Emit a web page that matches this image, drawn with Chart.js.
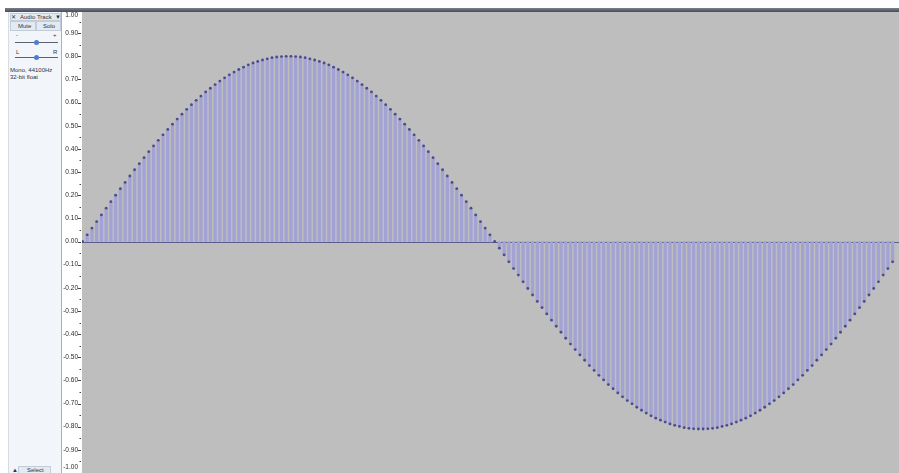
<!DOCTYPE html>
<html>
<head>
<meta charset="utf-8">
<script src="https://cdn.jsdelivr.net/npm/chart.js@4.4.1/dist/chart.umd.min.js"></script>
<style>
  html,body{margin:0;padding:0;}
  body{width:899px;height:473px;overflow:hidden;position:relative;background:#ffffff;font-family:"Liberation Sans",Arial,sans-serif;color:#333;}
  .abs{position:absolute;}
  #panel{left:8px;top:12px;width:53px;height:461px;background:#f2f5fa;border-left:1px solid #d6dce6;}
  .t{position:absolute;font-size:6px;line-height:6px;white-space:nowrap;color:#2e3440;}
  .btn{position:absolute;background:#e4eaf2;border:1px solid #c3ccd9;box-sizing:border-box;}
  .sl{position:absolute;height:1px;background:#5a6070;}
  .knob{position:absolute;width:5px;height:5px;border-radius:50%;background:#4d7fd0;}
  #ruler{left:61px;top:12px;width:21px;height:461px;background:#ffffff;border-left:1px solid #a8b0bc;box-sizing:border-box;}
  #plotbg{left:82px;top:10px;width:817px;height:463px;background:#bebebe;}
  #topbar{left:5px;top:8px;width:894px;height:4px;background:linear-gradient(#7a808c,#454b58);}
  #c{position:absolute;left:61px;top:0px;width:838px;height:477px;}
</style>
</head>
<body>
<div id="panel" class="abs">
  <div class="btn" style="left:1px;top:1px;width:51px;height:8px;"></div>
  <div class="t" style="left:2px;top:2px;">&#x2715;</div>
  <div class="t" style="left:11px;top:2px;">Audio Track</div>
  <div class="t" style="left:46px;top:2px;">&#x25BC;</div>
  <div class="btn" style="left:1px;top:9px;width:26px;height:10px;"></div>
  <div class="btn" style="left:27px;top:9px;width:25px;height:10px;"></div>
  <div class="t" style="left:9px;top:11px;">Mute</div>
  <div class="t" style="left:34px;top:11px;">Solo</div>
  <div class="t" style="left:7px;top:20px;">-</div>
  <div class="t" style="left:44px;top:20px;">+</div>
  <div class="sl" style="left:6px;top:30px;width:43px;"></div>
  <div class="knob" style="left:25px;top:28px;"></div>
  <div class="t" style="left:7px;top:37px;">L</div>
  <div class="t" style="left:44px;top:37px;">R</div>
  <div class="sl" style="left:6px;top:45px;width:43px;"></div>
  <div class="knob" style="left:25px;top:43px;"></div>
  <div class="t" style="left:1px;top:55px;">Mono, 44100Hz</div>
  <div class="t" style="left:1px;top:62px;">32-bit float</div>
  <div class="btn" style="left:9px;top:454px;width:33px;height:8px;"></div>
  <div class="t" style="left:3px;top:455px;">&#x25B2;</div>
  <div class="t" style="left:18px;top:455px;">Select</div>
</div>
<div id="ruler" class="abs"></div>
<div id="plotbg" class="abs"></div>
<canvas id="c" width="838" height="477"></canvas>
<div id="topbar" class="abs"></div>
<script>
// Sample values (one sample per stem)
const positiveHalf = [
  0, 0.029, 0.058, 0.086, 0.115, 0.144, 0.172, 0.200, 0.228, 0.255,
  0.283, 0.310, 0.336, 0.362, 0.388, 0.413, 0.437, 0.461, 0.484, 0.507,
  0.529, 0.550, 0.571, 0.591, 0.610, 0.628, 0.646, 0.662, 0.678, 0.693,
  0.707, 0.720, 0.732, 0.743, 0.753, 0.763, 0.771, 0.778, 0.784, 0.789,
  0.794, 0.797, 0.799, 0.800, 0.800, 0.799, 0.797, 0.794, 0.789, 0.784,
  0.778, 0.771, 0.763, 0.753, 0.743, 0.732, 0.720, 0.707, 0.693, 0.678,
  0.662, 0.646, 0.628, 0.610, 0.591, 0.571, 0.550, 0.529, 0.507, 0.484,
  0.461, 0.437, 0.413, 0.388, 0.362, 0.336, 0.310, 0.283, 0.255, 0.228,
  0.200, 0.172, 0.144, 0.115, 0.086, 0.058, 0.029, 0
];
const negativeHalf = [
  -0.029, -0.058, -0.088, -0.117, -0.145, -0.174, -0.203, -0.231, -0.259, -0.286,
  -0.313, -0.340, -0.366, -0.392, -0.418, -0.443, -0.467, -0.490, -0.513, -0.536,
  -0.557, -0.578, -0.598, -0.618, -0.636, -0.654, -0.671, -0.687, -0.701, -0.716,
  -0.729, -0.741, -0.753, -0.763, -0.772, -0.780, -0.788, -0.794, -0.799, -0.804,
  -0.807, -0.809, -0.810, -0.810, -0.809, -0.807, -0.804, -0.799, -0.794, -0.788,
  -0.780, -0.772, -0.763, -0.753, -0.741, -0.729, -0.716, -0.701, -0.687, -0.671,
  -0.654, -0.636, -0.618, -0.598, -0.578, -0.557, -0.536, -0.513, -0.490, -0.467,
  -0.443, -0.418, -0.392, -0.366, -0.340, -0.313, -0.286, -0.259, -0.231, -0.203,
  -0.174, -0.145, -0.117, -0.088
];
const yTickValues = [1.0, 0.9, 0.8, 0.7, 0.6, 0.5, 0.4, 0.3, 0.2, 0.1, 0.0,
  -0.1, -0.2, -0.3, -0.4, -0.5, -0.6, -0.7, -0.8, -0.9, -1.0];
const yTickLabels = ['1.00','0.90','0.80','0.70','0.60','0.50','0.40','0.30','0.20','0.10','0.00',
  '-0.10','-0.20','-0.30','-0.40','-0.50','-0.60','-0.70','-0.80','-0.90','-1.00'];

const sampleValues = positiveHalf.concat(negativeHalf);
const points = sampleValues.map((v, i) => ({x: i, y: v}));

const bgPlugin = {
  id: 'bg',
  beforeDraw(chart) {
    const {ctx, chartArea: a} = chart;
    ctx.save();
    ctx.fillStyle = '#bebebe';
    ctx.fillRect(a.left, a.top, chart.width - a.left, chart.height - a.top);
    ctx.restore();
  },
  beforeDatasetsDraw(chart) {
    const {ctx, chartArea: a} = chart;
    const y0 = Math.round(chart.scales.y.getPixelForValue(0)) + 0.5;
    ctx.save();
    ctx.strokeStyle = '#5c5c8c';
    ctx.lineWidth = 1;
    ctx.beginPath();
    ctx.moveTo(a.left, y0);
    ctx.lineTo(chart.width, y0);
    ctx.stroke();
    ctx.restore();
  },
  afterDraw(chart) {
    const {ctx, chartArea: a} = chart;
    const ys = chart.scales.y;
    ctx.save();
    ctx.fillStyle = '#2a2a2a';
    ctx.strokeStyle = '#444';
    ctx.lineWidth = 1;
    ctx.font = '6.5px "Liberation Sans", Arial, sans-serif';
    ctx.textAlign = 'right';
    ctx.textBaseline = 'middle';
    yTickValues.forEach((v, i) => {
      const py = ys.getPixelForValue(v);
      let ly = py;
      if (i === 0) ly = py + 5;
      if (i === yTickValues.length - 1) ly = py - 6;
      ctx.fillText(yTickLabels[i], a.left - 4, ly);
      if (i > 0 && i < yTickValues.length - 1) {
        const yy = Math.round(py) + 0.5;
        ctx.beginPath();
        ctx.moveTo(a.left - 4, yy);
        ctx.lineTo(a.left - 1, yy);
        ctx.stroke();
      }
      if (i < yTickValues.length - 1) {
        const mv = (v + yTickValues[i + 1]) / 2;
        const my = Math.round(ys.getPixelForValue(mv)) + 0.5;
        ctx.beginPath();
        ctx.moveTo(a.left - 2.5, my);
        ctx.lineTo(a.left - 1, my);
        ctx.stroke();
      }
    });
    ctx.restore();
  }
};

new Chart(document.getElementById('c'), {
  type: 'bar',
  data: {
    datasets: [
      {
        type: 'bar',
        data: points,
        backgroundColor: '#a2a2d4',
        borderWidth: 0,
        barThickness: 2.6,
        grouped: false,
        order: 2
      },
      {
        type: 'scatter',
        data: points,
        pointRadius: 1.4,
        pointBackgroundColor: '#4b4b8c',
        pointBorderWidth: 0,
        showLine: false,
        order: 1
      }
    ]
  },
  options: {
    responsive: false,
    animation: false,
    events: [],
    layout: {padding: {left: 21, top: 10, right: 0, bottom: 0}},
    plugins: {legend: {display: false}, tooltip: {enabled: false}},
    scales: {
      x: {type: 'linear', min: -0.1, max: 171.5, offset: false, display: false},
      y: {type: 'linear', min: -1, max: 1, display: false}
    }
  },
  plugins: [bgPlugin]
});
</script>
</body>
</html>
